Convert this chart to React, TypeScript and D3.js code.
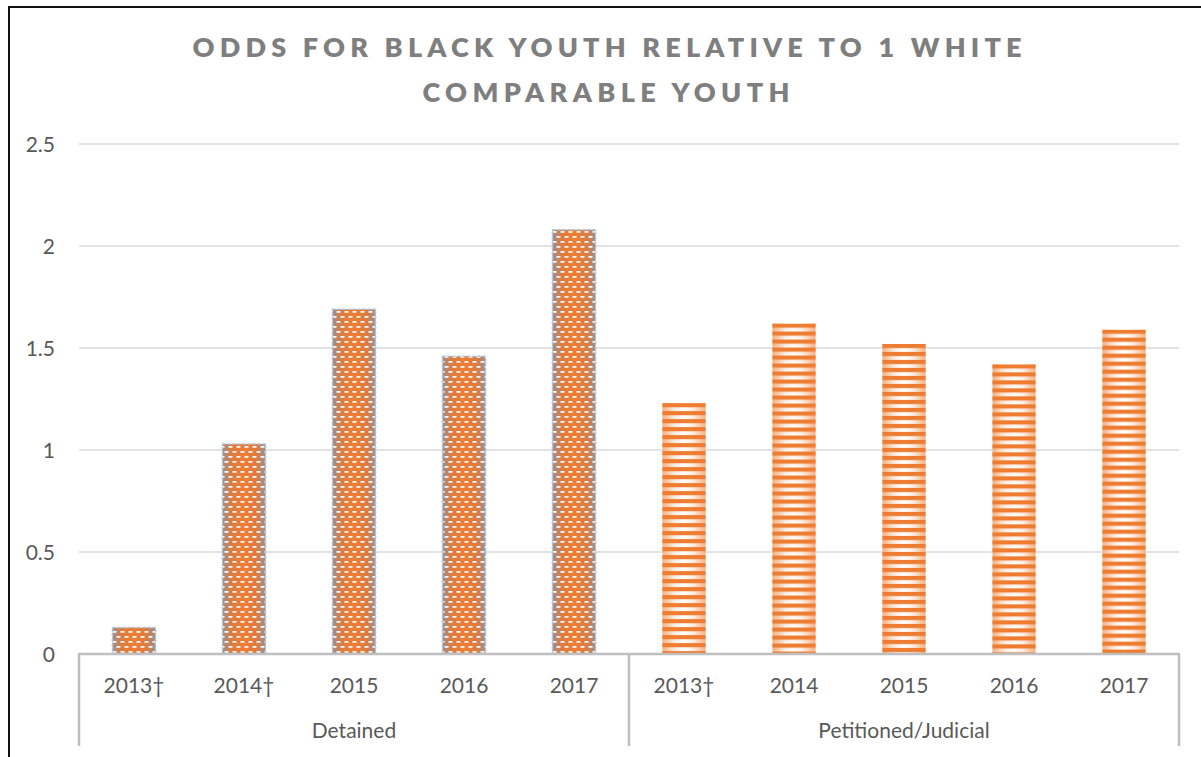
import React from "react";
import * as d3 from "d3";

const groupLabels = ["Detained", "Petitioned/Judicial"];
const detainedYears = ["2013†", "2014†", "2015", "2016", "2017"];
const detainedValues = [0.13, 1.03, 1.69, 1.46, 2.08];
const petitionedYears = ["2013†", "2014", "2015", "2016", "2017"];
const petitionedValues = [1.23, 1.62, 1.52, 1.42, 1.59];
const yTicks = [0, 0.5, 1, 1.5, 2, 2.5];
const titleLines = ["ODDS FOR BLACK YOUTH RELATIVE TO 1 WHITE", "COMPARABLE YOUTH"];

const W = 1201;
const H = 757;
const plotLeft = 79;
const plotRight = 1179;
const plotTop = 144;
const plotBottom = 654;
const axisBottom = 746;
const font = "Lato, 'Open Sans', sans-serif";

type Bar = { key: string; label: string; value: number; group: number };

const bars: Bar[] = [
  ...detainedYears.map((y, i) => ({ key: `d${i}`, label: y, value: detainedValues[i], group: 0 })),
  ...petitionedYears.map((y, i) => ({ key: `p${i}`, label: y, value: petitionedValues[i], group: 1 })),
];

export default function App() {
  const x = d3
    .scaleBand<string>()
    .domain(bars.map((b) => b.key))
    .range([plotLeft, plotRight])
    .paddingInner(0.608)
    .paddingOuter(0.304);
  const y = d3.scaleLinear().domain([0, 2.5]).range([plotBottom, plotTop]);
  const step = x.step();
  const groupBounds = [0, 5, 10].map((i) => plotLeft + i * step);

  return (
    <svg
      width={W}
      height={H}
      style={{ position: "absolute", left: 0, top: 0, background: "#fff" }}
    >
      <defs>
        <linearGradient id="detGrad" x1="0" x2="1" y1="0" y2="0">
          <stop offset="0" stopColor="#9c8f8c" />
          <stop offset="0.22" stopColor="#e07b3c" />
          <stop offset="0.5" stopColor="#ee7d31" />
          <stop offset="0.78" stopColor="#e07b3c" />
          <stop offset="1" stopColor="#9c8f8c" />
        </linearGradient>
        <pattern id="brick" patternUnits="userSpaceOnUse" width={8} height={10}>
          <rect x={0.5} y={1} width={4} height={1.8} fill="#f4f6fb" />
          <rect x={4.5} y={6} width={4} height={1.8} fill="#f4f6fb" />
          <rect x={-3.5} y={6} width={4} height={1.8} fill="#f4f6fb" />
        </pattern>
        <linearGradient id="petGrad" x1="0" x2="1" y1="0" y2="0">
          <stop offset="0" stopColor="#f5b083" />
          <stop offset="0.3" stopColor="#fdf0e6" />
          <stop offset="0.5" stopColor="#ffffff" />
          <stop offset="0.7" stopColor="#fdf0e6" />
          <stop offset="1" stopColor="#f5b083" />
        </linearGradient>
        {bars
          .filter((b) => b.group === 1)
          .map((b) => (
            <pattern
              key={b.key}
              id={`stripe-${b.key}`}
              patternUnits="userSpaceOnUse"
              x={0}
              y={y(b.value)}
              width={8}
              height={8}
            >
              <rect x={0} y={0} width={8} height={4.2} fill="#ee7d31" />
            </pattern>
          ))}
      </defs>

      {/* outer frame */}
      <rect x={9} y={7} width={1196} height={800} fill="none" stroke="#111" strokeWidth={2} />

      {/* title */}
      {titleLines.map((t, i) => (
        <text
          key={i}
          x={i === 0 ? 192.5 : 422.5}
          y={i === 0 ? 57 : 101.5}
          textLength={i === 0 ? 829 : 367}
          lengthAdjust="spacing"
          fontFamily={font}
          fontWeight={800}
          fontSize={27}
          fill="#7f7f7f"
        >
          {t}
        </text>
      ))}

      {/* gridlines */}
      {yTicks
        .filter((t) => t > 0)
        .map((t) => (
          <line
            key={t}
            x1={plotLeft}
            x2={plotRight}
            y1={y(t)}
            y2={y(t)}
            stroke="#d9d9d9"
            strokeWidth={1.3}
          />
        ))}

      {/* y tick labels */}
      {yTicks.map((t) => (
        <text
          key={t}
          x={55}
          y={y(t)}
          dy="0.36em"
          textAnchor="end"
          fontFamily={font}
          fontSize={21}
          fill="#595959"
        >
          {d3.format("")(t)}
        </text>
      ))}

      {/* bars */}
      {bars.map((b) => {
        const bx = x(b.key)!;
        const by = y(b.value);
        const bw = x.bandwidth();
        const bh = y(0) - by;
        if (b.group === 0) {
          return (
            <g key={b.key}>
              <rect x={bx} y={by} width={bw} height={bh} fill="url(#detGrad)" />
              <rect x={bx} y={by} width={bw} height={bh} fill="url(#brick)" />
              <rect
                x={bx}
                y={by}
                width={bw}
                height={bh}
                fill="none"
                stroke="#a9c6e6"
                strokeWidth={1.5}
                strokeDasharray="3 2"
              />
            </g>
          );
        }
        return (
          <g key={b.key}>
            <rect x={bx} y={by} width={bw} height={bh} fill="url(#petGrad)" />
            <rect x={bx} y={by} width={bw} height={bh} fill={`url(#stripe-${b.key})`} />
          </g>
        );
      })}

      {/* axis baseline & group separators */}
      <line x1={plotLeft - 1} x2={plotRight + 1} y1={plotBottom} y2={plotBottom} stroke="#bfbfbf" strokeWidth={2.5} />
      {groupBounds.map((gx, i) => (
        <line key={i} x1={gx} x2={gx} y1={plotBottom} y2={axisBottom} stroke="#bfbfbf" strokeWidth={2.5} />
      ))}

      {/* category labels */}
      {bars.map((b) => (
        <text
          key={b.key}
          x={x(b.key)! + x.bandwidth() / 2}
          y={693}
          textAnchor="middle"
          fontFamily={font}
          fontSize={21}
          fill="#595959"
        >
          {b.label}
        </text>
      ))}

      {/* group labels */}
      {groupLabels.map((g, i) => (
        <text
          key={g}
          x={(groupBounds[i] + groupBounds[i + 1]) / 2}
          y={738}
          textAnchor="middle"
          fontFamily={font}
          fontSize={21}
          fill="#595959"
        >
          {g}
        </text>
      ))}
    </svg>
  );
}
